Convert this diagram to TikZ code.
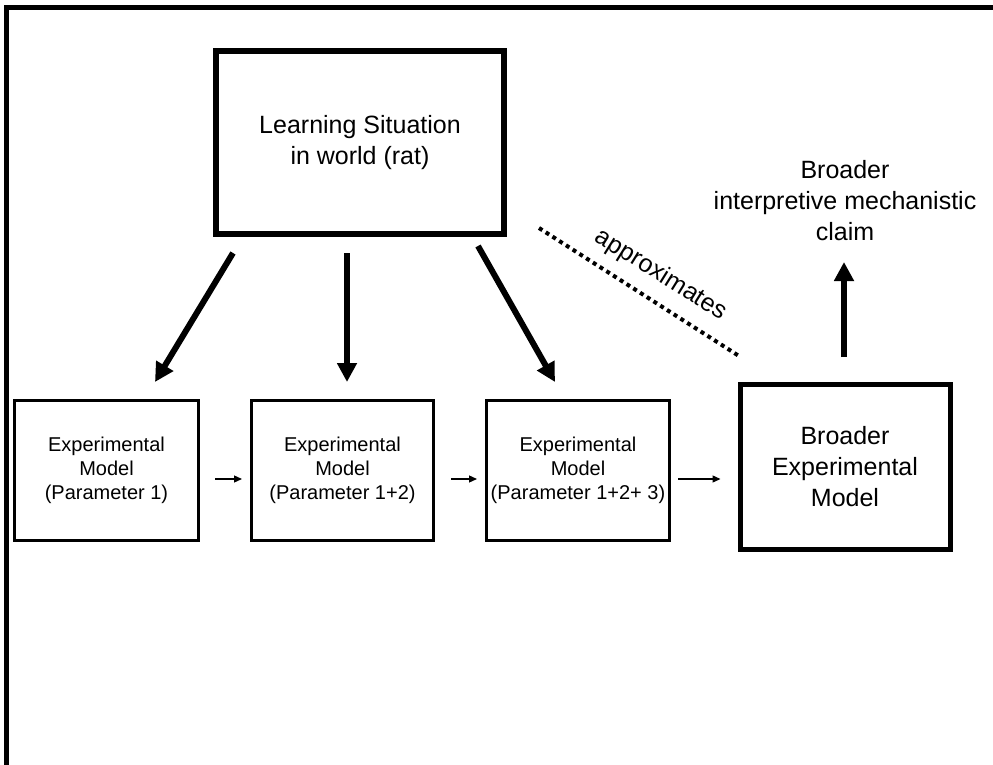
\documentclass[tikz,border=0pt]{standalone}
\usepackage{fontspec}
\setmainfont{Liberation Sans}
\usetikzlibrary{arrows.meta}
\tikzset{
  bigfont/.style={font=\fontsize{25}{31}\selectfont},
  smallfont/.style={font=\fontsize{20}{24}\selectfont},
  smallbox/.style={draw, line width=3pt, minimum width=183pt, minimum height=140pt, inner sep=0pt, align=center, smallfont},
  learnbox/.style={draw, line width=6pt, minimum width=288pt, minimum height=183pt, inner sep=0pt, align=center, bigfont},
  broadbox/.style={draw, line width=5pt, minimum width=210pt, minimum height=165pt, inner sep=0pt, align=center, bigfont},
  bigarrow/.style={line width=6pt, -{Triangle[length=19pt,width=19pt]}},
  smallarrow/.style={line width=1.3pt, -{Triangle[length=8pt,width=7pt]}},
  dotline/.style={line width=4pt, dash pattern=on 4pt off 4pt},
  framestyle/.style={line width=5pt}
}
\begin{document}
\begin{tikzpicture}[x=1pt,y=-1pt]
\useasboundingbox (0,0) rectangle (993,765);
% frame (top and left edges only)
\coordinate (frTL) at (6,7.5);
\coordinate (frTR) at (993,7.5);
\coordinate (frBL) at (6,765);
\draw[framestyle] (frTR) -- (frTL) -- (frBL);

% boxes
\node[learnbox] (learn) at (360,142.5) {Learning Situation\\in world (rat)};
\node[smallbox, minimum width=184pt] (m1) at (106.5,470.5) {Experimental\\Model\\(Parameter 1)};
\node[smallbox, minimum width=182pt] (m2) at (342.5,470.5) {Experimental\\Model\\(Parameter 1+2)};
\node[smallbox] (m3) at (578,470.5) {Experimental\\Model\\(Parameter 1+2+ 3)};
\node[broadbox] (bm) at (845,467) {Broader\\Experimental\\Model};
\node[bigfont, align=center] (claim) at (845,201) {Broader\\interpretive mechanistic\\claim};

% big arrows from the learning situation
\coordinate (a1s) at (233,253);
\coordinate (a1e) at (155,382);
\coordinate (a2s) at (347,253);
\coordinate (a2e) at (347,382);
\coordinate (a3s) at (478,246);
\coordinate (a3e) at (555,382);
\draw[bigarrow] (a1s) -- (a1e);
\draw[bigarrow] (a2s) -- (a2e);
\draw[bigarrow] (a3s) -- (a3e);

% small arrows between models
\draw[smallarrow] ([xshift=15pt]m1.east |- 0,479) -- ([xshift=-8pt]m2.west |- 0,479);
\draw[smallarrow] ([xshift=16pt]m2.east |- 0,479) -- ([xshift=-8pt]m3.west |- 0,479);
\draw[smallarrow] ([xshift=7pt]m3.east |- 0,479) -- ([xshift=-17pt]bm.west |- 0,479);

% up arrow to claim
\coordinate (ups) at (844,357);
\coordinate (upe) at (844,262);
\draw[bigarrow] (ups) -- (upe);

% approximates (dotted)
\coordinate (ds) at (539,228);
\coordinate (de) at (739,356);
\draw[dotline] (ds) -- (de);
\node[bigfont, rotate=-32] (approx) at (661,275) {approximates};
\end{tikzpicture}
\end{document}
